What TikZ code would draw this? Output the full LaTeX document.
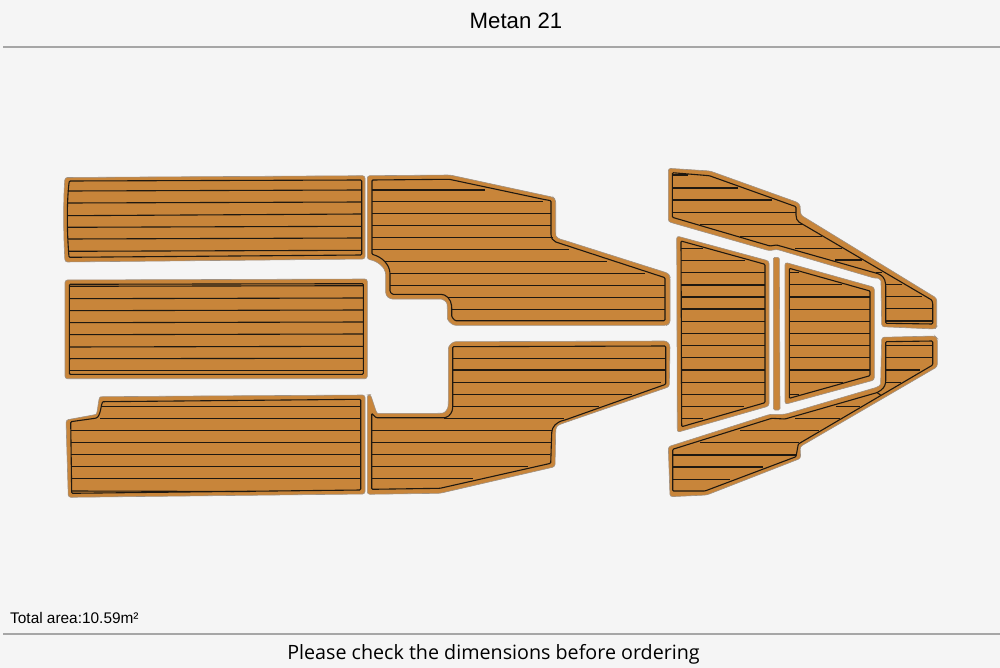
\documentclass[tikz,border=0pt]{standalone}
\usepackage{fontspec}
\setmainfont{Liberation Sans}
\newfontfamily\notefont{Open Sans}
\definecolor{paper}{HTML}{F5F5F5}
\definecolor{teak}{HTML}{C8853A}
\definecolor{rim}{HTML}{A09080}
\definecolor{groove}{HTML}{1F1810}
\definecolor{rule}{HTML}{A6A6A6}
\tikzset{
  panel/.style={fill=teak,draw=rim,line width=.6pt,rounded corners=2.5pt},
  inset/.style={draw=groove,line width=1.1pt,rounded corners=1pt},
  seam/.style={draw=groove,line width=1.1pt},
  rulebar/.style={draw=rule,line width=1.2pt},
  caption/.style={inner sep=0pt,text=black}
}
\begin{document}
\begin{tikzpicture}[x=1pt,y=-1pt]
  \fill[paper] (0,0) rectangle (1000,668);
  \useasboundingbox (0,0) rectangle (1000,668);
  \node[caption,font=\fontsize{22.2}{26}\selectfont] (title) at (516,21) {Metan 21};
  \coordinate (ruleTopL) at (3,47);
  \coordinate (ruleTopR) at (1000,47);
  \coordinate (ruleBotL) at (3,634);
  \coordinate (ruleBotR) at (1000,634);
  \draw[rulebar] (ruleTopL) -- (ruleTopR);
  \draw[rulebar] (ruleBotL) -- (ruleBotR);
  \node[caption,anchor=west,font=\fontsize{15.4}{18}\selectfont] (area) at (10,618) {Total area:10.59m²};
  \node[caption,font=\notefont\fontsize{19.7}{22}\selectfont] (note) at (493.5,654) {Please check the dimensions before ordering};
  % top left
  \draw[panel] (63.7,218) .. controls (63.7,200) and (64,190) .. (65,177.5) -- (365,175.7) -- (365,259) -- (65,262) .. controls (64,245) and (63.7,230) .. cycle;
  \draw[inset] (67.3,218) .. controls (67.3,205) and (68,190) .. (69.3,181) -- (361.7,180) -- (361.7,255) -- (69,257.3) .. controls (68,245) and (67.3,230) .. cycle;
  \foreach \ya/\yb in {191/190,203/202,215.7/214,227.3/226.3,239/238,251.3/250.3}
    \draw[seam] (68,\ya) -- (361.7,\yb);
  % middle left
  \draw[panel] (65,280) -- (367.3,279) -- (367.3,378.7) -- (65,378.7) -- cycle;
  \draw[inset] (69.3,284.3) -- (363.3,283.7) -- (363.3,374.3) -- (69.3,374.3) -- cycle;
  \foreach \ya/\yb in {286.3/285.7,298.7/298,310.7/310,322.7/322,334.7/334,347/346.3,358.7/358.3,370.7/370.7}
    \draw[seam] (69.3,\ya) -- (363.3,\yb);
  % bottom left
  \draw[panel] (200,396) -- (365,395) -- (365,494) -- (68.3,497.3) -- (66,420) -- (93.3,415) .. controls (98,414) and (98,397) .. (103,396.7) -- cycle;
  \draw[inset] (200,400.8) -- (360.7,399.3) -- (360.7,490) -- (71.7,493.3) -- (70.7,421.7) -- (95,418.3) .. controls (101,417) and (101,402) .. (104,401.7) -- cycle;
  \foreach \xa/\y in {101.7/406.7,100/418.7,70.7/430.7,70.7/442.7,70.7/454.7,70.7/466.3,70.7/478.7}
    \draw[seam] (\xa,\y) -- (360.7,\y);
  \draw[seam] (71.7,491) -- (250,491.5);
  % top middle
  \draw[panel] (367.3,175.7) -- (450,175) -- (553.3,197.3) -- (555.7,200) -- (555.7,233.3) .. controls (556,237) and (559,239) .. (563.3,240) -- (668.3,273.3) -- (670,276.7) -- (670,323.3) -- (666.7,325.3) -- (453.3,325.3) -- (447.3,320) -- (447.3,306.7) .. controls (447,302) and (443,299) .. (438.3,299) -- (390,299) -- (385.7,295) -- (385.7,275) .. controls (385,268) and (378,261) .. (367.3,259.3) -- cycle;
  \draw[inset] (372,180) -- (449.3,179.3) -- (543.3,199.3) -- (551,200.7) -- (551,233.3) .. controls (551,238) and (553,241) .. (556.7,242.3) -- (665,277.7) -- (665,320.7) -- (455,320.7) -- (451.7,316.7) -- (451.7,306.7) .. controls (451,299) and (446,294.3) .. (440,294.3) -- (392.3,294.3) -- (390,291.7) -- (390,273.3) .. controls (389,264) and (382,257) .. (372,254.3) -- cycle;
  \foreach \xa/\xb/\y in {372/485/190,372/542.7/201.7,372/551/213.7,372/551/225.7,372/552.7/237.7,372/569.3/249.7,385/607.3/261.7,390/645/273.7,390/665/285.7,448.3/665/297.7,451.7/665/309.7}
    \draw[seam] (\xa,\y) -- (\xb,\y);
  % bottom middle
  \draw[panel] (453.3,341.7) -- (666.7,341) -- (670,345) -- (669.3,386.7) -- (560,424.3) .. controls (557,426) and (556,428) .. (555.7,431.7) -- (555,466.7) -- (440,493.3) -- (367.3,494.3) -- (367.3,395) -- (370.5,394.5) -- (375,408) .. controls (376,411) and (377,413.3) .. (380,413.3) -- (440,413.3) .. controls (445,413) and (448,409) .. (448.3,403.3) -- (448.3,346.7) -- cycle;
  \draw[inset] (452.7,346.7) -- (665.7,346) -- (665.7,384.3) -- (565,420) .. controls (556,422) and (552,427) .. (551.7,433.3) -- (550.7,463.3) -- (440,488.3) -- (371.7,489.3) -- (371.7,413.3) -- (376,417.7) -- (445,417.7) .. controls (450,416) and (452.5,412) .. (452.7,406.7) -- cycle;
  \foreach \xa/\xb/\y in {453/665.7/358.3,453/665.7/370,453/661/382.3,453.3/631.7/394.3,453.3/599.3/406.3,444.3/564/418.3,371.7/552.3/430.3,371.7/551/442.7,371.7/550/454.3,371.7/527.7/466.7,371.7/473.3/478.7}
    \draw[seam] (\xa,\y) -- (\xb,\y);
  % top right
  \draw[panel] (668.3,168.3) -- (710,171) -- (798.3,202.7) -- (800,206) -- (800.7,215) -- (936.7,298.3) -- (936.7,326.7) -- (935,329) -- (881.7,326.7) -- (881,283.3) .. controls (881,280) and (878,278) .. (875,278.3) -- (776.7,249.3) -- (769.3,250.7) -- (668.3,221.7) -- cycle;
  \draw[inset] (672.3,172.7) -- (709.3,175.7) -- (796,206.7) -- (796,214) .. controls (796,218) and (797,221) .. (800,222.7) -- (931.7,300) -- (932.7,303) -- (932.7,324) -- (885.7,323.3) -- (885.7,285) .. controls (885,278) and (882,275) .. (876.7,273.3) -- (776.7,245) -- (770,246) -- (672.3,217.3) -- cycle;
  \foreach \xa/\xb/\y in {672.3/688.3/175,672.3/737.7/188,672.3/771.7/200,672.3/796/212.3,700/802.7/224.5,740/821.7/236.3,795/841.7/248.3,835/861.7/260,876/881.7/272.3,885.7/901.7/284.3,885.7/921.7/296.3,885.7/932.7/308.7,885.7/932.7/321}
    \draw[seam] (\xa,\y) -- (\xb,\y);
  % left trapezoid
  \draw[panel] (676.7,236) -- (769,261) -- (769,406) -- (677.3,432.3) -- cycle;
  \draw[inset] (681,241) -- (765,264.3) -- (765,402.7) -- (681.7,426.7) -- cycle;
  \foreach \xb/\y in {703.3/248.3,745/260.3,765/272.7,765/285,765/297,765/309,765/321.3,765/333.3,765/345.7,765/357.7,765/370,765/382.3,765/394.3,744/406.7,703.3/418.7}
    \draw[seam] (681.3,\y) -- (\xb,\y);
  % strip
  \draw[panel,rounded corners=1.5pt] (773.3,257.3) -- (779.3,257.3) -- (780,410) -- (773.3,410) -- cycle;
  % right trapezoid
  \draw[panel] (785,262.3) -- (874.3,287.3) -- (874.3,380) -- (785,404.3) -- cycle;
  \draw[inset] (789.3,268.3) -- (870,291) -- (870,375.7) -- (789.3,398.3) -- cycle;
  \foreach \xb/\y in {799.3/272.7,841.7/284.7,870/297,870/309.3,870/321.7,870/333.3,870/345.3,870/357.7,870/370,842.7/382.3,799.3/394.3}
    \draw[seam] (789.3,\y) -- (\xb,\y);
  % bottom right
  \draw[panel] (881.7,337.3) -- (935,336) -- (937.3,338.3) -- (937.3,366.7) -- (800,446.7) -- (800.7,458.3) -- (706.7,495) -- (670,496.7) -- (668.3,446.7) -- (770,414.3) -- (785,414.3) -- (873.3,388.3) .. controls (878,387) and (880.5,385) .. (880.7,381.7) -- cycle;
  \draw[inset] (885.7,341.7) -- (932.7,341) -- (932.7,365) -- (798.3,444) -- (796,456.7) -- (705,491) -- (672.7,491) -- (672.7,449.3) -- (771.7,418.3) -- (785,419) -- (876.7,392.7) .. controls (882,390) and (885,387) .. (885.7,381.7) -- cycle;
  \foreach \xa/\xb/\y in {885.7/932.7/345.3,885.7/932.7/357.7,885.7/920/370,885.7/900.7/382.3,835.7/860/406.7,795/840/418.7,740/819.3/430.7,700/799.3/442.7,672.7/796/455,672.7/763.3/467,672.7/730/479.3}
    \draw[seam] (\xa,\y) -- (\xb,\y);
  \draw[seam] (877,392.5) -- (880.5,395);
\end{tikzpicture}
\end{document}
